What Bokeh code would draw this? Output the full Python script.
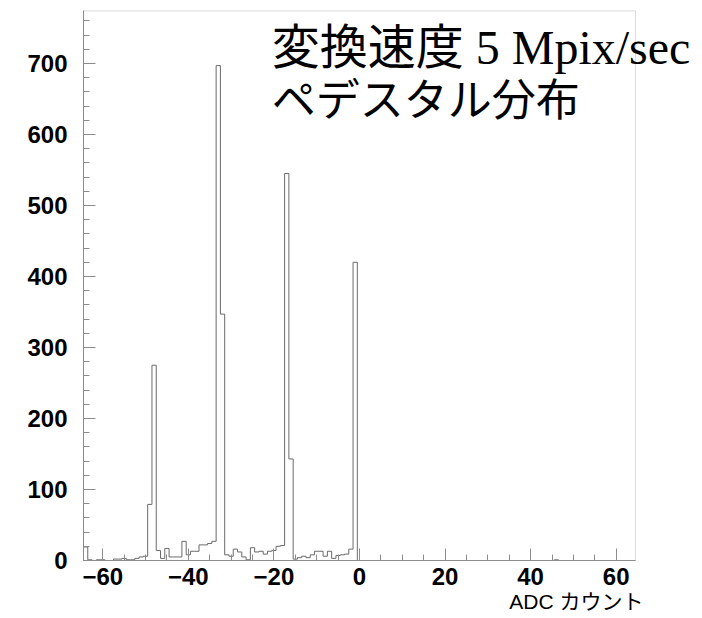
from bokeh.plotting import figure
from bokeh.models import (SingleIntervalTicker, FixedTicker, Label, Title,
                          BoxAnnotation, Range1d)
from bokeh.embed import file_html
from bokeh.resources import INLINE

# ADC pedestal histogram, one bin per ADC count (-64 .. 64)
bin_centers = list(range(-64, 65))

counts_neg = [
    19, 1, 0, 1, 1, 0, 0, 2, 2, 3, 1, 1, 3, 5, 6,          # -64 .. -50
    79, 275, 14, 3, 17, 5, 5, 5, 27, 8, 13, 13, 22, 22, 24, 27,  # -49 .. -34
    697, 347, 8, 6, 16, 12, 5, 1, 18, 12, 13, 9, 13, 14, 20, 21,  # -33 .. -18
    545, 143, 2, 4, 6, 4, 8, 13, 13, 6, 13, 3, 7, 8, 9, 16,     # -17 .. -2
    420,                                                   # -1
]
counts_pos = [0] * 65          # 0 .. 64
counts_pos[46] = 1
counts = counts_neg + counts_pos

x_major_ticks = [-60, -40, -20, 0, 20, 40, 60]
x_minor_ticks = list(range(-60, 61, 5))

title_line1 = "変換速度 5 Mpix/sec"
title_line2 = "ペデスタル分布"
x_title = "ADC カウント"

x_lo, x_hi = -64.5, 64.5       # histogram range
y_hi = 774                      # top of the drawn frame

# outline of the histogram as a step line along the bin edges
step_x = [c - 0.5 for c in bin_centers] + [bin_centers[-1] + 0.5]
step_y = counts + [counts[-1]]

# the plotting frame runs on to the right canvas edge so the title can
# overhang the histogram box; the box itself is drawn separately
p = figure(width=702, height=618,
           x_range=Range1d(x_lo, 80.17), y_range=Range1d(0, 776),
           output_backend="svg", toolbar_location=None,
           min_border_left=83, min_border_right=0,
           min_border_top=9, min_border_bottom=58)
p.background_fill_color = "white"
p.border_fill_color = "white"
p.outline_line_color = None
p.xgrid.visible = False
p.ygrid.visible = False

frame_grey = "#8c8c8c"
p.add_layout(BoxAnnotation(left=x_lo, right=x_hi, bottom=0, top=y_hi,
                           fill_alpha=0, line_color=frame_grey,
                           line_width=1))

p.step(step_x, step_y, mode="after", line_color="#6a6a6a", line_width=1)

p.xaxis.ticker = FixedTicker(ticks=x_major_ticks, minor_ticks=x_minor_ticks)
p.yaxis.ticker = SingleIntervalTicker(interval=100, num_minor_ticks=5)
p.xaxis.bounds = (x_lo, x_hi)
p.yaxis.bounds = (0, y_hi)
for ax in (p.xaxis[0], p.yaxis[0]):
    ax.axis_line_color = frame_grey
    ax.major_tick_line_color = frame_grey
    ax.minor_tick_line_color = frame_grey
    ax.major_tick_in = 12
    ax.major_tick_out = 0
    ax.minor_tick_in = 6
    ax.minor_tick_out = 0
    ax.major_label_text_font = "Liberation Sans"
    ax.major_label_text_font_style = "bold"
    ax.major_label_text_font_size = "24px"
    ax.major_label_text_color = "black"
p.xaxis.major_label_standoff = 7
p.yaxis.major_label_standoff = 16

cjk_serif = "'Liberation Serif', 'Noto Sans CJK JP'"
p.add_layout(Label(x=-20.5, y=723, text=title_line1, text_font=cjk_serif,
                   text_font_size="48px", text_color="black",
                   text_align="left", text_baseline="alphabetic"))
p.add_layout(Label(x=-20.5, y=646, text=title_line2, text_font=cjk_serif,
                   text_font_size="44px", text_color="black",
                   text_align="left", text_baseline="alphabetic"))

p.add_layout(Title(text=x_title, align="right", offset=59, standoff=0,
                   text_font="'Liberation Sans', 'Noto Sans CJK JP'",
                   text_font_size="21px", text_font_style="normal",
                   text_color="black"), "below")

open("out.html", "w").write(file_html(p, INLINE))
